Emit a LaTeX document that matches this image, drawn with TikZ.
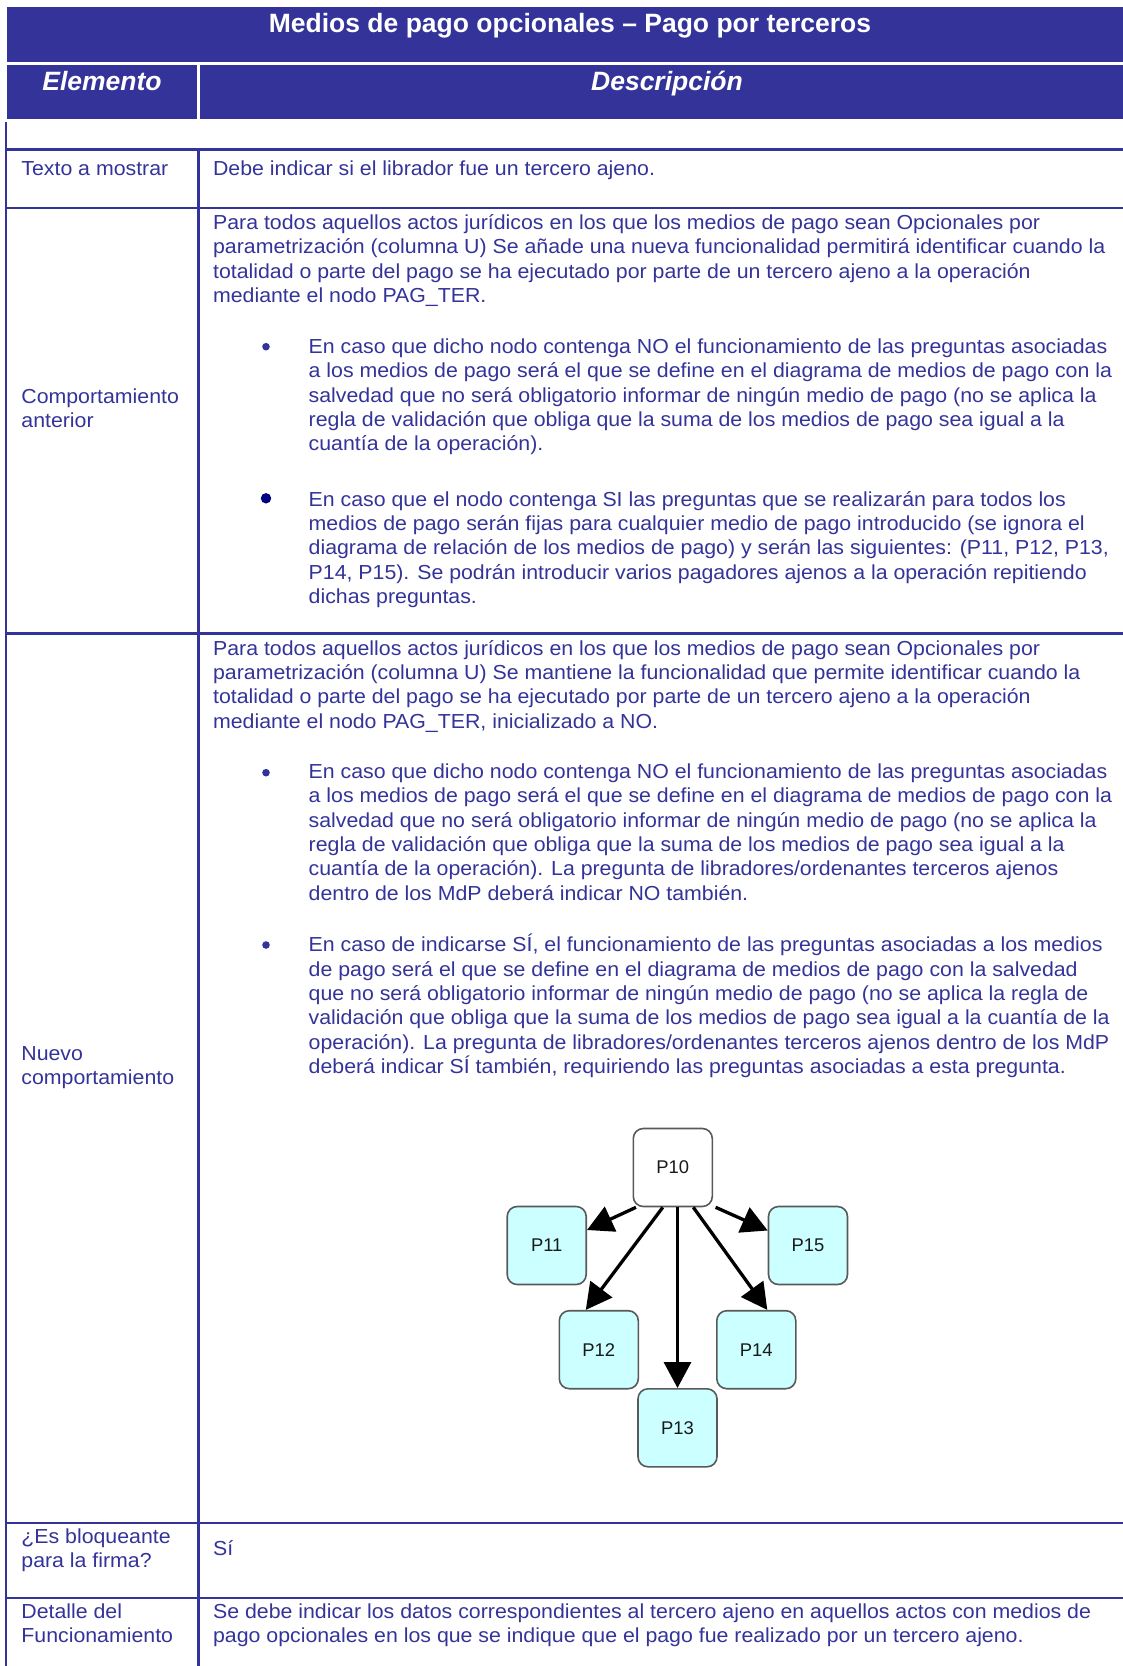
\documentclass[tikz,border=0pt]{standalone}
\usepackage{fontspec}
\setmainfont{Liberation Sans}
\newfontfamily\bodyfont{Liberation Sans}[FakeStretch=1.05]
\usetikzlibrary{arrows.meta}
\definecolor{tblue}{HTML}{333399}
\definecolor{bnavy}{HTML}{000080}
\definecolor{pcyan}{HTML}{CCFFFF}
\newcommand\celltext[1]{\parbox[t]{480pt}{\raggedright\bodyfont\fontsize{10.15pt}{12.2pt}\selectfont #1}}
\newcommand\labeltext[1]{\parbox[t]{92pt}{\raggedright\bodyfont\fontsize{10.15pt}{12.2pt}\selectfont #1}}
\begin{document}
\begin{tikzpicture}[x=0.5pt,y=-0.5pt,
  hdrtext/.style={text=white, font=\fontsize{13.25pt}{15pt}\selectfont\bfseries, inner sep=0, anchor=base},
  txt/.style={text=tblue, inner sep=0, anchor=base west},
  grid/.style={draw=tblue, line width=1.25pt},
  pbox/.style={draw=black!65, line width=0.8pt, rounded corners=5pt, minimum width=39.5pt, minimum height=39pt, fill=pcyan, font=\fontsize{9.2pt}{10pt}\selectfont, text=black!90, inner sep=0},
  parrow/.style={line width=1.65pt, -{Triangle[length=13pt,width=13.5pt]}}
]
\useasboundingbox (0,0) rectangle (1123,1666);
\clip (0,0) rectangle (1123,1666);
% header bars
\fill[tblue] (7.3,7.3) rectangle (1134,61.7);
\fill[tblue] (7.3,65) rectangle (196.7,119.3);
\fill[tblue] (200,65) rectangle (1134,119.3);
\node[hdrtext] (title) at (570,32.3) {Medios de pago opcionales – Pago por terceros};
\node[hdrtext, font=\fontsize{13.25pt}{15pt}\selectfont\bfseries\itshape] (hElem) at (102,90) {Elemento};
\node[hdrtext, font=\fontsize{13.25pt}{15pt}\selectfont\bfseries\itshape] (hDesc) at (667,90) {Descripción};
% grid
\draw[grid] (6.2,122.3) -- (6.2,1666);
\draw[grid] (198.3,149.5) -- (198.3,1666);
\foreach \yy in {149.5,208,633.5,1523,1598} \draw[grid] (5,\yy) -- (1134,\yy);
% row: texto a mostrar
\node[txt] (l1) at (21,175) {\labeltext{Texto a mostrar}};
\node[txt] (d1) at (212.7,175) {\celltext{Debe indicar si el librador fue un tercero ajeno.}};
% row: comportamiento anterior
\node[txt] (l2) at (21,403) {\labeltext{Comportamiento\\anterior}};
\node[txt] (d2a) at (212.7,229.3) {\celltext{Para todos aquellos actos jurídicos en los que los medios de pago sean Opcionales por\\
parametrización (columna U) Se añade una nueva funcionalidad permitirá identificar cuando la\\
totalidad o parte del pago se ha ejecutado por parte de un tercero ajeno a la operación\\
mediante el nodo PAG\_TER.}};
\fill[tblue] (266,346.7) circle (1.9pt);
\node[txt] (d2b) at (308.3,353.3) {\celltext{En caso que dicho nodo contenga NO el funcionamiento de las preguntas asociadas\\
a los medios de pago será el que se define en el diagrama de medios de pago con la\\
salvedad que no será obligatorio informar de ningún medio de pago (no se aplica la\\
regla de validación que obliga que la suma de los medios de pago sea igual a la\\
cuantía de la operación).}};
\fill[bnavy] (266,498.3) circle (2.6pt);
\node[txt] (d2c) at (308.3,506) {\celltext{En caso que el nodo contenga SI las preguntas que se realizarán para todos los\\
medios de pago serán fijas para cualquier medio de pago introducido (se ignora el\\
diagrama de relación de los medios de pago) y serán las siguientes: (P11, P12, P13,\\
P14, P15). Se podrán introducir varios pagadores ajenos a la operación repitiendo\\
dichas preguntas.}};
% row: nuevo comportamiento
\node[txt] (l3) at (21,1060.5) {\labeltext{Nuevo\\comportamiento}};
\node[txt] (d3a) at (212.7,655) {\celltext{Para todos aquellos actos jurídicos en los que los medios de pago sean Opcionales por\\
parametrización (columna U) Se mantiene la funcionalidad que permite identificar cuando la\\
totalidad o parte del pago se ha ejecutado por parte de un tercero ajeno a la operación\\
mediante el nodo PAG\_TER, inicializado a NO.}};
\fill[tblue] (266,772.7) circle (1.9pt);
\node[txt] (d3b) at (308.3,778.3) {\celltext{En caso que dicho nodo contenga NO el funcionamiento de las preguntas asociadas\\
a los medios de pago será el que se define en el diagrama de medios de pago con la\\
salvedad que no será obligatorio informar de ningún medio de pago (no se aplica la\\
regla de validación que obliga que la suma de los medios de pago sea igual a la\\
cuantía de la operación). La pregunta de libradores/ordenantes terceros ajenos\\
dentro de los MdP deberá indicar NO también.}};
\fill[tblue] (266,945) circle (1.9pt);
\node[txt] (d3c) at (308.3,951.7) {\celltext{En caso de indicarse SÍ, el funcionamiento de las preguntas asociadas a los medios\\
de pago será el que se define en el diagrama de medios de pago con la salvedad\\
que no será obligatorio informar de ningún medio de pago (no se aplica la regla de\\
validación que obliga que la suma de los medios de pago sea igual a la cuantía de la\\
operación). La pregunta de libradores/ordenantes terceros ajenos dentro de los MdP\\
deberá indicar SÍ también, requiriendo las preguntas asociadas a esta pregunta.}};
% diagram
\node[pbox, fill=white] (p10) at (672.8,1167.5) {P10};
\node[pbox] (p11) at (546.7,1245.5) {P11};
\node[pbox] (p15) at (808,1245.5) {P15};
\node[pbox] (p12) at (598.8,1349.7) {P12};
\node[pbox] (p14) at (756.3,1349.7) {P14};
\node[pbox] (p13) at (677.5,1427.8) {P13};
\draw[parrow] ([shift={(3.5,0)}]p10.south west) -- ([shift={(0,-15.5)}]p11.east);
\draw[parrow] ([shift={(-10,0)}]p10.south) -- ([shift={(-13,0)}]p12.north);
\draw[parrow] (p10.south -| p13.north) -- (p13.north);
\draw[parrow] ([shift={(20.5,0)}]p10.south) -- ([shift={(11,0)}]p14.north);
\draw[parrow] ([shift={(2.5,0)}]p10.south east) -- ([shift={(0,-15)}]p15.west);
% row: bloqueante
\node[txt] (l4) at (21,1543) {\labeltext{¿Es bloqueante\\para la firma?}};
\node[txt] (d4) at (212.7,1555) {\celltext{Sí}};
% row: detalle
\node[txt] (l5) at (21,1618) {\labeltext{Detalle del\\Funcionamiento}};
\node[txt] (d5) at (212.7,1618) {\celltext{Se debe indicar los datos correspondientes al tercero ajeno en aquellos actos con medios de\\
pago opcionales en los que se indique que el pago fue realizado por un tercero ajeno.}};
\end{tikzpicture}
\end{document}
